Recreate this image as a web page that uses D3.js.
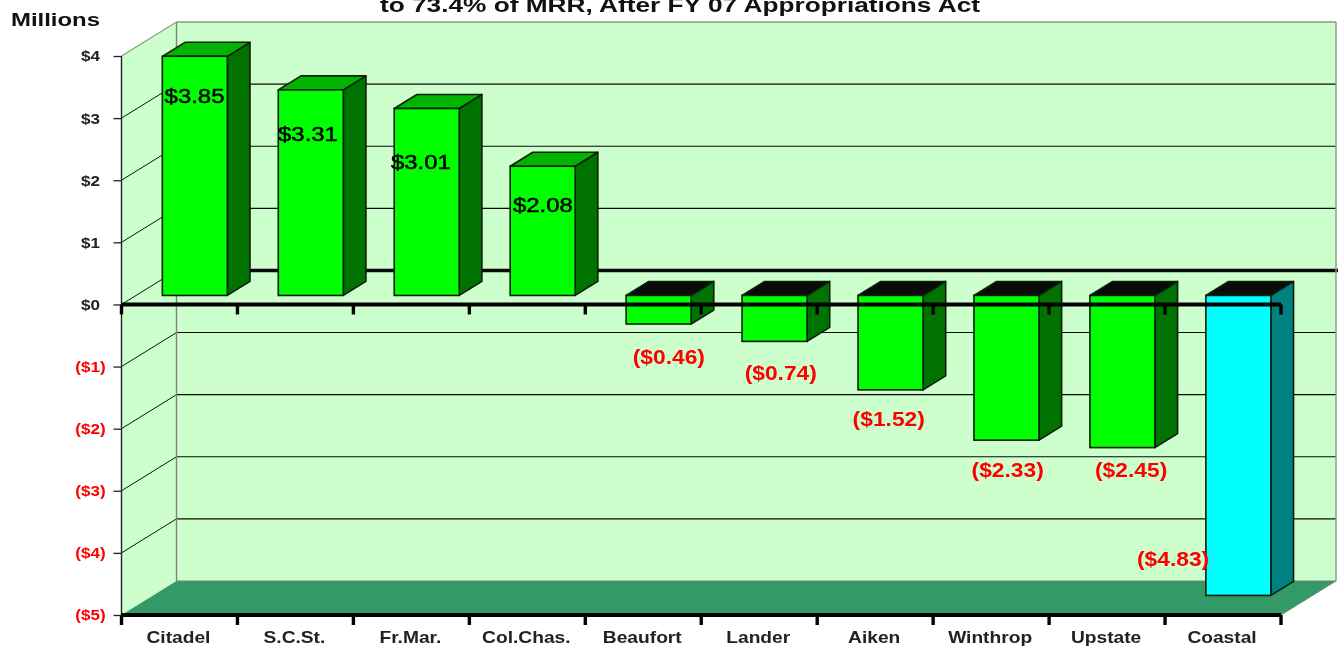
<!DOCTYPE html>
<html><head><meta charset="utf-8">
<script src="https://cdn.jsdelivr.net/npm/d3@7/dist/d3.min.js"></script>
<style>
html,body{margin:0;padding:0;background:#fff;overflow:hidden}
svg{display:block;filter:blur(.5px)}
text{font-family:"Liberation Sans",Arial,sans-serif}
</style></head><body>
<script>
const categories = ["Citadel","S.C.St.","Fr.Mar.","Col.Chas.","Beaufort","Lander","Aiken","Winthrop","Upstate","Coastal"];
const values = [3.85,3.31,3.01,2.08,-0.46,-0.74,-1.52,-2.33,-2.45,-4.83];
const valueLabels = ["$3.85","$3.31","$3.01","$2.08","($0.46)","($0.74)","($1.52)","($2.33)","($2.45)","($4.83)"];
const tickValues = [4,3,2,1,0,-1,-2,-3,-4,-5];
const tickLabels = ["$4","$3","$2","$1","$0","($1)","($2)","($3)","($4)","($5)"];
const highlighted = ["Coastal"];
const titleText = "to 73.4% of MRR, After FY 07 Appropriations Act";
const unitText = "Millions";
// Where each data label sits: level on the value axis, sideways nudge in px
const labelLevels = [3.35,2.74,2.29,1.6,-0.86,-1.11,-1.86,-2.67,-2.68,-4.1];
const labelNudges = [0.5,-2,-5,1,11,7,-1,2,9.5,-64.5];

const W=1341,H=647;
const svg=d3.select("body").append("svg").attr("width",W).attr("height",H);
const x=d3.scaleBand().domain(categories).range([121.5,1281]).paddingInner(0).paddingOuter(0);
const y=d3.scaleLinear().domain([-5,4]).range([615,56]);
const DX=55,DY=-34;                 // full depth of the box
const P=(px,py,d)=>[px+DX*d,py+DY*d];
const poly=(pts,fill,stroke,sw)=>svg.append("polygon").attr("points",pts.map(p=>p.join(",")).join(" "))
  .attr("fill",fill).attr("stroke",stroke||"none").attr("stroke-width",sw||0).attr("stroke-linejoin","round");
const seg=(a,b,stroke,sw)=>svg.append("line").attr("x1",a[0]).attr("y1",a[1]).attr("x2",b[0]).attr("y2",b[1]).attr("stroke",stroke).attr("stroke-width",sw);
const [xL,xR]=x.range(), yTop=y(4), yBot=y(-5);

// walls and floor
const backTop=yTop+DY, backBot=yBot+DY;
poly([[xL+DX,backTop],[xR+DX,backTop],[xR+DX,backBot],[xL+DX,backBot]],"#CCFFCC");
poly([[xL,yTop],[xL+DX,backTop],[xL+DX,backBot],[xL,yBot]],"#CCFFCC");
poly([[xL,yBot],[xL+DX,backBot],[xR+DX,backBot],[xR,yBot]],"#339966");
// gridlines on back and side wall
tickValues.forEach(v=>{
  if(v===-5||v===4) return;
  const w=v===0?3.5:1.1;
  seg(P(xL,y(v),1),[xR+DX+(v===0?2:0),y(v)+DY],"#0a0a0a",w);
  seg([xL,y(v)],P(xL,y(v),1),"#111",1);
});
// box edges
seg([xL+DX,backTop],[xR+DX,backTop],"#8a9a8a",1.4);
seg([xR+DX,backTop],[xR+DX,backBot],"#8a9a8a",1.4);
seg([xL+DX,backTop],[xL+DX,backBot],"#808080",1.4);
seg([xL+DX,backBot],[xR+DX,backBot],"#808080",1.2);
seg([xL,yTop],[xL+DX,backTop],"#8a9a8a",1.2);
seg([xR,yBot],[xR+DX,backBot],"#6f8f7f",1);
seg([xL,yTop],[xL,yBot],"#222",1.4);

// 3D bars
const bw=65, d0=9/34, d1=23/34;
categories.forEach((c,i)=>{
  const v=values[i], hi=highlighted.includes(c);
  const left=x(c)+(x.bandwidth()-bw)/2+DX*d0+0.8, right=left+bw;
  const base=y(0)+DY*d0, end=y(v)+DY*d0;
  const topY=Math.min(base,end), botY=Math.max(base,end);
  const f=hi?"#00FFFF":"#00FF00", side=hi?"#008080":"#007200", cap=v<0?"#0A0A0A":"#00B400";
  const off=d1-d0, ox=DX*off, oy=DY*off;
  poly([[right,topY],[right+ox,topY+oy],[right+ox,botY+oy],[right,botY]],side,"#0a200a",1.6);
  poly([[left,topY],[left+ox,topY+oy],[right+ox,topY+oy],[right,topY]],cap,"#0a200a",1.6);
  svg.append("rect").attr("x",left).attr("y",topY).attr("width",bw).attr("height",botY-topY)
     .attr("fill",f).attr("stroke","#0a200a").attr("stroke-width",1.6);
});

// front axes
seg([xL,y(0)],[xR,y(0)],"#000",4);
seg([xL,yBot],[xR,yBot],"#000",4);
const edges=categories.map(c=>x(c)).concat([xR]);
edges.forEach(e=>{
  seg([e,y(0)],[e,y(0)+10],"#000",3.4);
  seg([e,yBot],[e,yBot+10],"#000",3.4);
});

// value axis
const yAxis=d3.axisLeft(y).tickValues(tickValues).tickFormat(v=>tickLabels[tickValues.indexOf(v)]).tickSize(8).tickPadding(0);
const gy=svg.append("g").attr("transform",`translate(${xL},0)`).call(yAxis);
gy.select(".domain").remove();
gy.selectAll(".tick line").attr("stroke","#222").attr("stroke-width",1.3);
gy.selectAll(".tick text").each(function(v){
  d3.select(this).attr("text-anchor","middle").attr("x",0).attr("y",0).attr("dy",0)
   .attr("dominant-baseline","central")
   .attr("transform",`translate(${90.5-xL},0) scale(1.22,1)`)
   .attr("font-size",14).attr("font-weight",700).attr("fill",v<0?"#FF0000":"#222");
});

// category axis
const xAxis=d3.axisBottom(x).tickSize(0).tickPadding(0);
const gx=svg.append("g").attr("transform",`translate(0,${yBot})`).call(xAxis);
gx.select(".domain").remove();
gx.selectAll(".tick text").attr("y",0).attr("dy",0).attr("dominant-baseline","central")
  .attr("transform","translate(-1,23) scale(1.2,1)")
  .attr("font-size",16).attr("font-weight",700).attr("fill","#222").attr("text-anchor","middle");

// data labels
categories.forEach((c,i)=>{
  const neg=values[i]<0;
  const cx=x(c)+x.bandwidth()/2+DX*d0+labelNudges[i];
  svg.append("text").attr("transform",`translate(${cx},${y(labelLevels[i])}) scale(1.14,1)`)
    .attr("text-anchor","middle").attr("dominant-baseline","central")
    .attr("font-size",neg?20:21).attr("font-weight",neg?700:400)
    .attr("stroke",neg?"none":"#000").attr("stroke-width",neg?0:.5)
    .attr("fill",neg?"#FF0000":"#000").text(valueLabels[i]);
});

// title and unit
svg.append("text").attr("transform","translate(680,12) scale(1.3,1)").attr("text-anchor","middle")
  .attr("font-size",20.2).attr("font-weight",700).attr("fill","#111").text(titleText);
svg.append("text").attr("transform","translate(55.5,19) scale(1.26,1)").attr("text-anchor","middle").attr("dominant-baseline","central")
  .attr("font-size",19).attr("font-weight",700).attr("fill","#111").text(unitText);
</script>
</body></html>
